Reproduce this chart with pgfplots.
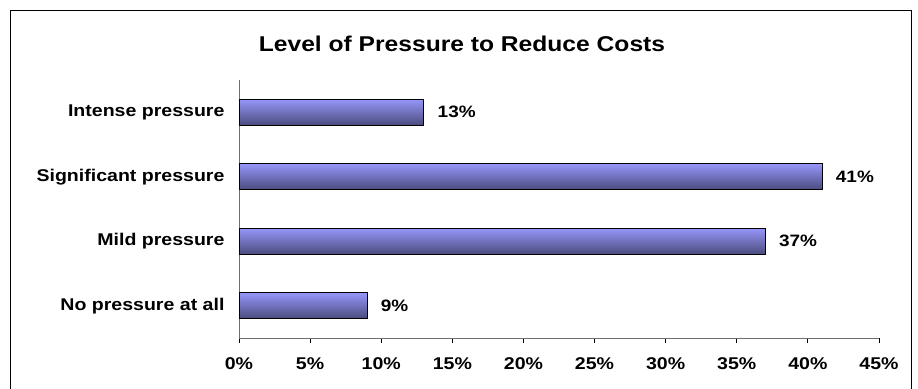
\documentclass[border=0pt]{standalone}
\usepackage{pgfplots}
\pgfplotsset{compat=1.18}
\usepackage{fontspec}
\setmainfont{Liberation Sans}[FakeStretch=1.15]

\definecolor{barTop}{RGB}{150,150,250}
\definecolor{barMid}{RGB}{125,125,220}
\definecolor{barBot}{RGB}{75,75,125}
\definecolor{axisGray}{RGB}{110,110,110}

\tikzset{barstyle/.style={draw=black, line width=1bp,
  top color=barTop, middle color=barMid, bottom color=barBot}}

\begin{document}
\begin{tikzpicture}
\useasboundingbox (0,0) rectangle (918bp,389bp);
% outer chart frame (open at the bottom edge)
\draw[line width=1.1bp] (10.5bp,0) -- (10.5bp,378.5bp) -- (911.5bp,378.5bp) -- (911.5bp,0);
% title
\node[font=\fontsize{21.4bp}{25bp}\selectfont\bfseries] at (462bp,345bp) {Level of Pressure to Reduce Costs};
\begin{axis}[
  at={(239bp,51bp)}, anchor=south west,
  scale only axis, width=640bp, height=258bp,
  xmin=0, xmax=45, ymin=-0.5, ymax=3.5,
  axis x line*=bottom, axis y line*=left,
  axis line style={axisGray, line width=0.9bp, -},
  xtick={0,5,...,45},
  xticklabel={\pgfmathprintnumber{\tick}\%},
  tick align=outside,
  major tick length=5bp,
  x tick style={black, line width=0.8bp},
  ytick={0,1,2,3},
  y tick style={draw=none},
  yticklabels={No pressure at all, Mild pressure, Significant pressure, Intense pressure},
  ticklabel style={font=\fontsize{17bp}{20bp}\selectfont\bfseries},
  /pgf/number format/assume math mode=true,
  xticklabel style={yshift=-11bp},
  yticklabel style={xshift=-6bp},
  xbar, bar width=26bp, bar shift=0pt,
  nodes near coords={\pgfmathprintnumber{\pgfplotspointmeta}\%},
  nodes near coords style={black, font=\fontsize{16.5bp}{20bp}\selectfont\bfseries, xshift=10bp},
  clip=false,
]
% one plot per bar so that each bar carries its own gradient
\addplot[barstyle] coordinates {(9,0)};
\addplot[barstyle] coordinates {(37,1)};
\addplot[barstyle] coordinates {(41,2)};
\addplot[barstyle] coordinates {(13,3)};
\end{axis}
\end{tikzpicture}
\end{document}
